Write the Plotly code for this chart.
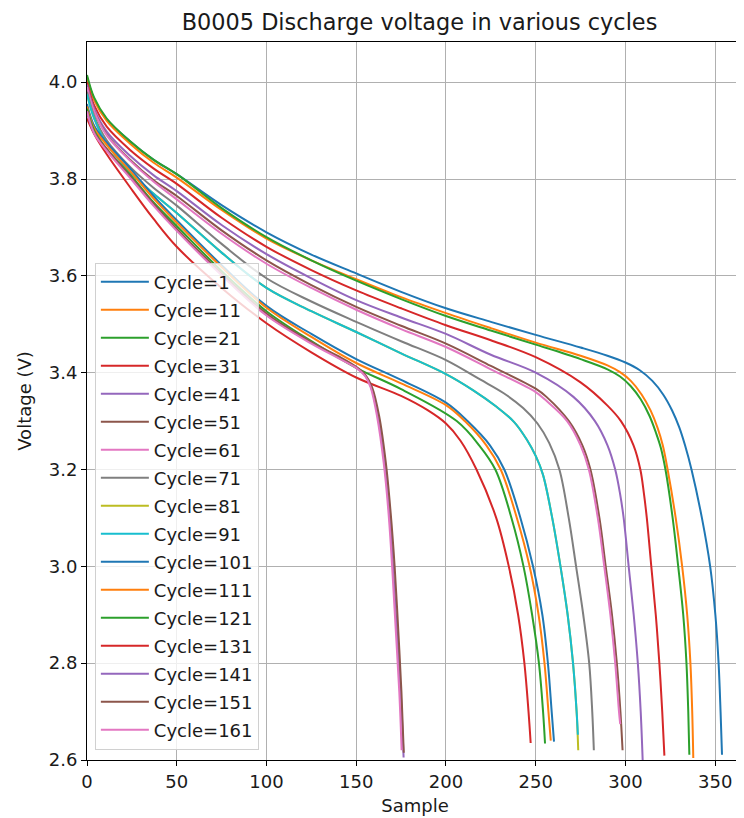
import plotly.graph_objects as go

cycles = [1, 11, 21, 31, 41, 51, 61, 71, 81, 91, 101, 111, 121, 131, 141, 151, 161]
colors = ["#1f77b4", "#ff7f0e", "#2ca02c", "#d62728", "#9467bd", "#8c564b", "#e377c2",
          "#7f7f7f", "#bcbd22", "#17becf", "#1f77b4", "#ff7f0e", "#2ca02c", "#d62728",
          "#9467bd", "#8c564b", "#e377c2"]

s_c1 = [0, 4, 11, 24, 37, 50, 75, 100, 125, 150, 175, 200, 225, 250, 275, 290, 300, 308, 315, 321, 326, 330, 333.2, 336.8, 342.6, 347.2, 350.1, 351.9, 353, 353.8]
v_c1 = [4.01, 3.965, 3.923, 3.878, 3.84, 3.81, 3.746, 3.69, 3.644, 3.605, 3.567, 3.533, 3.505, 3.478, 3.452, 3.435, 3.421, 3.405, 3.383, 3.355, 3.322, 3.287, 3.25, 3.2, 3.1, 3.0, 2.9, 2.8, 2.7, 2.611]

s_c11 = [0, 4, 11, 24, 37, 50, 75, 100, 125, 150, 175, 200, 225, 250, 275, 290, 297, 303, 309, 314, 318, 320.8, 323.5, 328, 331.6, 334.4, 336.2, 337.2, 337.8]
v_c11 = [4.01, 3.963, 3.92, 3.873, 3.834, 3.803, 3.736, 3.677, 3.632, 3.593, 3.556, 3.523, 3.492, 3.462, 3.435, 3.415, 3.401, 3.383, 3.355, 3.322, 3.285, 3.25, 3.2, 3.1, 3.0, 2.9, 2.8, 2.7, 2.604]

s_c21 = [0, 4, 11, 24, 37, 50, 75, 100, 125, 150, 175, 200, 225, 250, 275, 290, 297, 303, 308.5, 313.5, 317, 319.7, 322.3, 326.3, 329.4, 332.2, 334, 335, 335.6]
v_c21 = [4.015, 3.968, 3.925, 3.878, 3.84, 3.81, 3.74, 3.68, 3.632, 3.59, 3.552, 3.517, 3.487, 3.458, 3.428, 3.407, 3.392, 3.372, 3.345, 3.31, 3.276, 3.245, 3.2, 3.1, 3.0, 2.9, 2.8, 2.7, 2.611]

s_c31 = [0, 4, 11, 24, 37, 50, 75, 100, 125, 150, 175, 200, 225, 250, 275, 290, 297.5, 304.5, 308.3, 310.3, 311.9, 314.4, 316.9, 318.9, 320.5, 321.7]
v_c31 = [4.0, 3.952, 3.908, 3.86, 3.822, 3.79, 3.72, 3.66, 3.612, 3.57, 3.533, 3.498, 3.467, 3.432, 3.38, 3.332, 3.3, 3.25, 3.2, 3.15, 3.1, 3.0, 2.9, 2.8, 2.7, 2.609]

s_c41 = [0, 4, 11, 24, 37, 50, 75, 100, 125, 150, 175, 200, 225, 250, 271, 283, 290, 294.3, 297, 299, 301.8, 304.6, 306.9, 308.5, 309.6]
v_c41 = [3.995, 3.945, 3.898, 3.848, 3.808, 3.775, 3.705, 3.645, 3.595, 3.55, 3.514, 3.48, 3.437, 3.4, 3.35, 3.3, 3.25, 3.2, 3.15, 3.1, 3.0, 2.9, 2.8, 2.7, 2.6]

s_c51 = [0, 4, 11, 24, 37, 50, 75, 100, 125, 150, 175, 200, 225, 250, 256, 268.5, 276, 280.5, 285.5, 289, 292.5, 295.2, 297.2, 298.4]
v_c51 = [3.99, 3.94, 3.892, 3.84, 3.798, 3.765, 3.694, 3.632, 3.581, 3.536, 3.497, 3.46, 3.414, 3.367, 3.35, 3.3, 3.25, 3.2, 3.1, 3.0, 2.9, 2.8, 2.7, 2.62]

s_c61 = [0, 4, 11, 24, 37, 50, 75, 100, 125, 150, 175, 200, 225, 250, 255, 267.5, 275, 279.6, 284.6, 288.2, 291.6, 294.3, 296.4, 297.1]
v_c61 = [3.99, 3.94, 3.89, 3.838, 3.795, 3.758, 3.687, 3.625, 3.575, 3.53, 3.49, 3.453, 3.407, 3.36, 3.345, 3.3, 3.25, 3.2, 3.1, 3.0, 2.9, 2.8, 2.7, 2.674]

s_c71 = [0, 4, 11, 24, 37, 50, 75, 100, 125, 150, 175, 200, 219, 232, 243, 251, 257.5, 263.2, 268.4, 272.5, 276.5, 279.8, 281.5, 282.4]
v_c71 = [3.98, 3.93, 3.88, 3.825, 3.782, 3.745, 3.666, 3.595, 3.547, 3.505, 3.465, 3.426, 3.386, 3.358, 3.327, 3.295, 3.255, 3.2, 3.1, 3.0, 2.9, 2.8, 2.7, 2.62]

s_c81 = [0, 4, 11, 24, 37, 50, 75, 100, 125, 150, 175, 200, 215, 228, 238, 245, 250, 254, 259.2, 263.8, 267.8, 270.8, 272.8, 273.7]
v_c81 = [3.975, 3.925, 3.873, 3.815, 3.77, 3.73, 3.648, 3.575, 3.527, 3.484, 3.44, 3.397, 3.364, 3.33, 3.298, 3.262, 3.228, 3.19, 3.1, 3.0, 2.9, 2.8, 2.7, 2.62]

s_c91 = [0, 4, 11, 24, 37, 50, 75, 100, 125, 150, 175, 200, 215, 228, 238, 245, 250, 254, 259.2, 263.8, 267.8, 270.8, 272.8, 273.5]
v_c91 = [3.975, 3.925, 3.873, 3.815, 3.77, 3.73, 3.648, 3.575, 3.527, 3.484, 3.44, 3.397, 3.364, 3.33, 3.298, 3.262, 3.228, 3.19, 3.1, 3.0, 2.9, 2.8, 2.7, 2.652]

s_c101 = [0, 4, 11, 25, 37, 50, 75, 100, 125, 150, 175, 200, 212, 224.5, 232.5, 241.5, 248.5, 253.7, 256.8, 258.9, 260.2]
v_c101 = [3.955, 3.91, 3.875, 3.818, 3.765, 3.715, 3.622, 3.538, 3.48, 3.428, 3.385, 3.338, 3.3, 3.25, 3.2, 3.1, 3.0, 2.9, 2.8, 2.7, 2.638]

s_c111 = [0, 4, 11, 25, 37, 50, 75, 100, 125, 150, 175, 200, 210.5, 222.5, 230.5, 239.5, 246.6, 251.6, 254.9, 257.1, 258.4]
v_c111 = [3.95, 3.905, 3.87, 3.812, 3.76, 3.71, 3.618, 3.534, 3.474, 3.42, 3.378, 3.333, 3.3, 3.25, 3.2, 3.1, 3.0, 2.9, 2.8, 2.7, 2.64]

s_c121 = [0, 4, 11, 25, 37, 50, 75, 100, 125, 150, 175, 206, 218.5, 227.5, 236.5, 243.2, 248, 251.8, 254.1, 255.2]
v_c121 = [3.945, 3.9, 3.862, 3.805, 3.752, 3.703, 3.61, 3.527, 3.465, 3.41, 3.366, 3.3, 3.25, 3.2, 3.1, 3.0, 2.9, 2.8, 2.7, 2.634]

s_c131 = [0, 4, 11, 24, 37, 50, 75, 100, 125, 150, 175, 190, 200, 208, 217, 228, 235, 240.2, 243.7, 246, 247.2]
v_c131 = [3.925, 3.893, 3.851, 3.783, 3.718, 3.66, 3.575, 3.502, 3.442, 3.39, 3.352, 3.322, 3.295, 3.26, 3.2, 3.1, 3.0, 2.9, 2.8, 2.7, 2.635]

s_c141 = [0, 4, 11, 25, 37, 50, 75, 100, 125, 140, 150, 155, 158.3, 162, 165.7, 168.4, 170.5, 172.6, 174.8, 176.4]
v_c141 = [3.94, 3.895, 3.86, 3.8, 3.747, 3.695, 3.603, 3.52, 3.462, 3.432, 3.41, 3.394, 3.37, 3.31, 3.214, 3.11, 3.0, 2.87, 2.74, 2.605]

s_c151 = [0, 4, 11, 25, 37, 50, 75, 100, 125, 140, 150, 155, 158.8, 162.8, 166.5, 169.2, 171.4, 173.4, 175.2, 176.5]
v_c151 = [3.94, 3.896, 3.862, 3.802, 3.749, 3.697, 3.605, 3.522, 3.463, 3.434, 3.412, 3.396, 3.37, 3.31, 3.214, 3.11, 3.0, 2.87, 2.74, 2.615]

s_c161 = [0, 4, 11, 25, 37, 50, 75, 100, 125, 140, 150, 155, 158, 161.6, 165.3, 168, 170, 172, 174, 175.3]
v_c161 = [3.94, 3.894, 3.858, 3.798, 3.745, 3.693, 3.601, 3.518, 3.46, 3.43, 3.41, 3.393, 3.37, 3.31, 3.214, 3.11, 3.0, 2.87, 2.74, 2.62]

samples = [s_c1, s_c11, s_c21, s_c31, s_c41, s_c51, s_c61, s_c71, s_c81, s_c91,
           s_c101, s_c111, s_c121, s_c131, s_c141, s_c151, s_c161]
volts = [v_c1, v_c11, v_c21, v_c31, v_c41, v_c51, v_c61, v_c71, v_c81, v_c91,
         v_c101, v_c111, v_c121, v_c131, v_c141, v_c151, v_c161]

x_ticks = [0, 50, 100, 150, 200, 250, 300, 350]
y_ticks = [2.6, 2.8, 3.0, 3.2, 3.4, 3.6, 3.8, 4.0]

FONT = "DejaVu Sans, Arial, sans-serif"
TXT = "#1a1a1a"

# the page body adds an 8px offset, so the figure is drawn 8px smaller
W, H = 736, 810

fig = go.Figure()
for cyc, col, xs, ys in zip(cycles, colors, samples, volts):
    fig.add_trace(go.Scatter(
        x=xs, y=ys, mode="lines", name=f"Cycle={cyc}",
        legendgroup=f"g{cyc}",
        line=dict(color=col, width=2, shape="spline", smoothing=1.0),
    ))

axis_common = dict(
    showline=True, linecolor="black", linewidth=1, mirror=True,
    ticks="outside", ticklen=5, tickwidth=1, tickcolor="black",
    showgrid=True, gridcolor="#b0b0b0", gridwidth=1,
    zeroline=False, automargin=False,
    tickfont=dict(family=FONT, size=18, color=TXT),
)

fig.update_layout(
    width=W, height=H,
    paper_bgcolor="white", plot_bgcolor="white",
    margin=dict(l=79, r=1, t=34, b=58, autoexpand=False),
    title=dict(text="B0005 Discharge voltage in various cycles", x=411.5 / W, xanchor="center",
               y=1 - 14 / H, yanchor="middle", automargin=False,
               font=dict(family=FONT, size=22.4, color=TXT)),
    xaxis=dict(range=[0, 365.5], tickvals=x_ticks,
               title=dict(text="Sample", font=dict(family=FONT, size=18, color=TXT), standoff=8),
               **axis_common),
    yaxis=dict(range=[2.6, 4.083], tickvals=y_ticks, tickformat=".1f",
               title=dict(text="Voltage (V)", font=dict(family=FONT, size=18, color=TXT), standoff=12),
               **axis_common),
    legend=dict(x=0.012, y=0.0145, xanchor="left", yanchor="bottom",
                bgcolor="rgba(255,255,255,0.8)", bordercolor="#d0d0d0", borderwidth=1,
                font=dict(family=FONT, size=18, color=TXT), itemwidth=48,
                traceorder="grouped", tracegroupgap=1.6),
    showlegend=True,
)

fig.write_html("out.html")
